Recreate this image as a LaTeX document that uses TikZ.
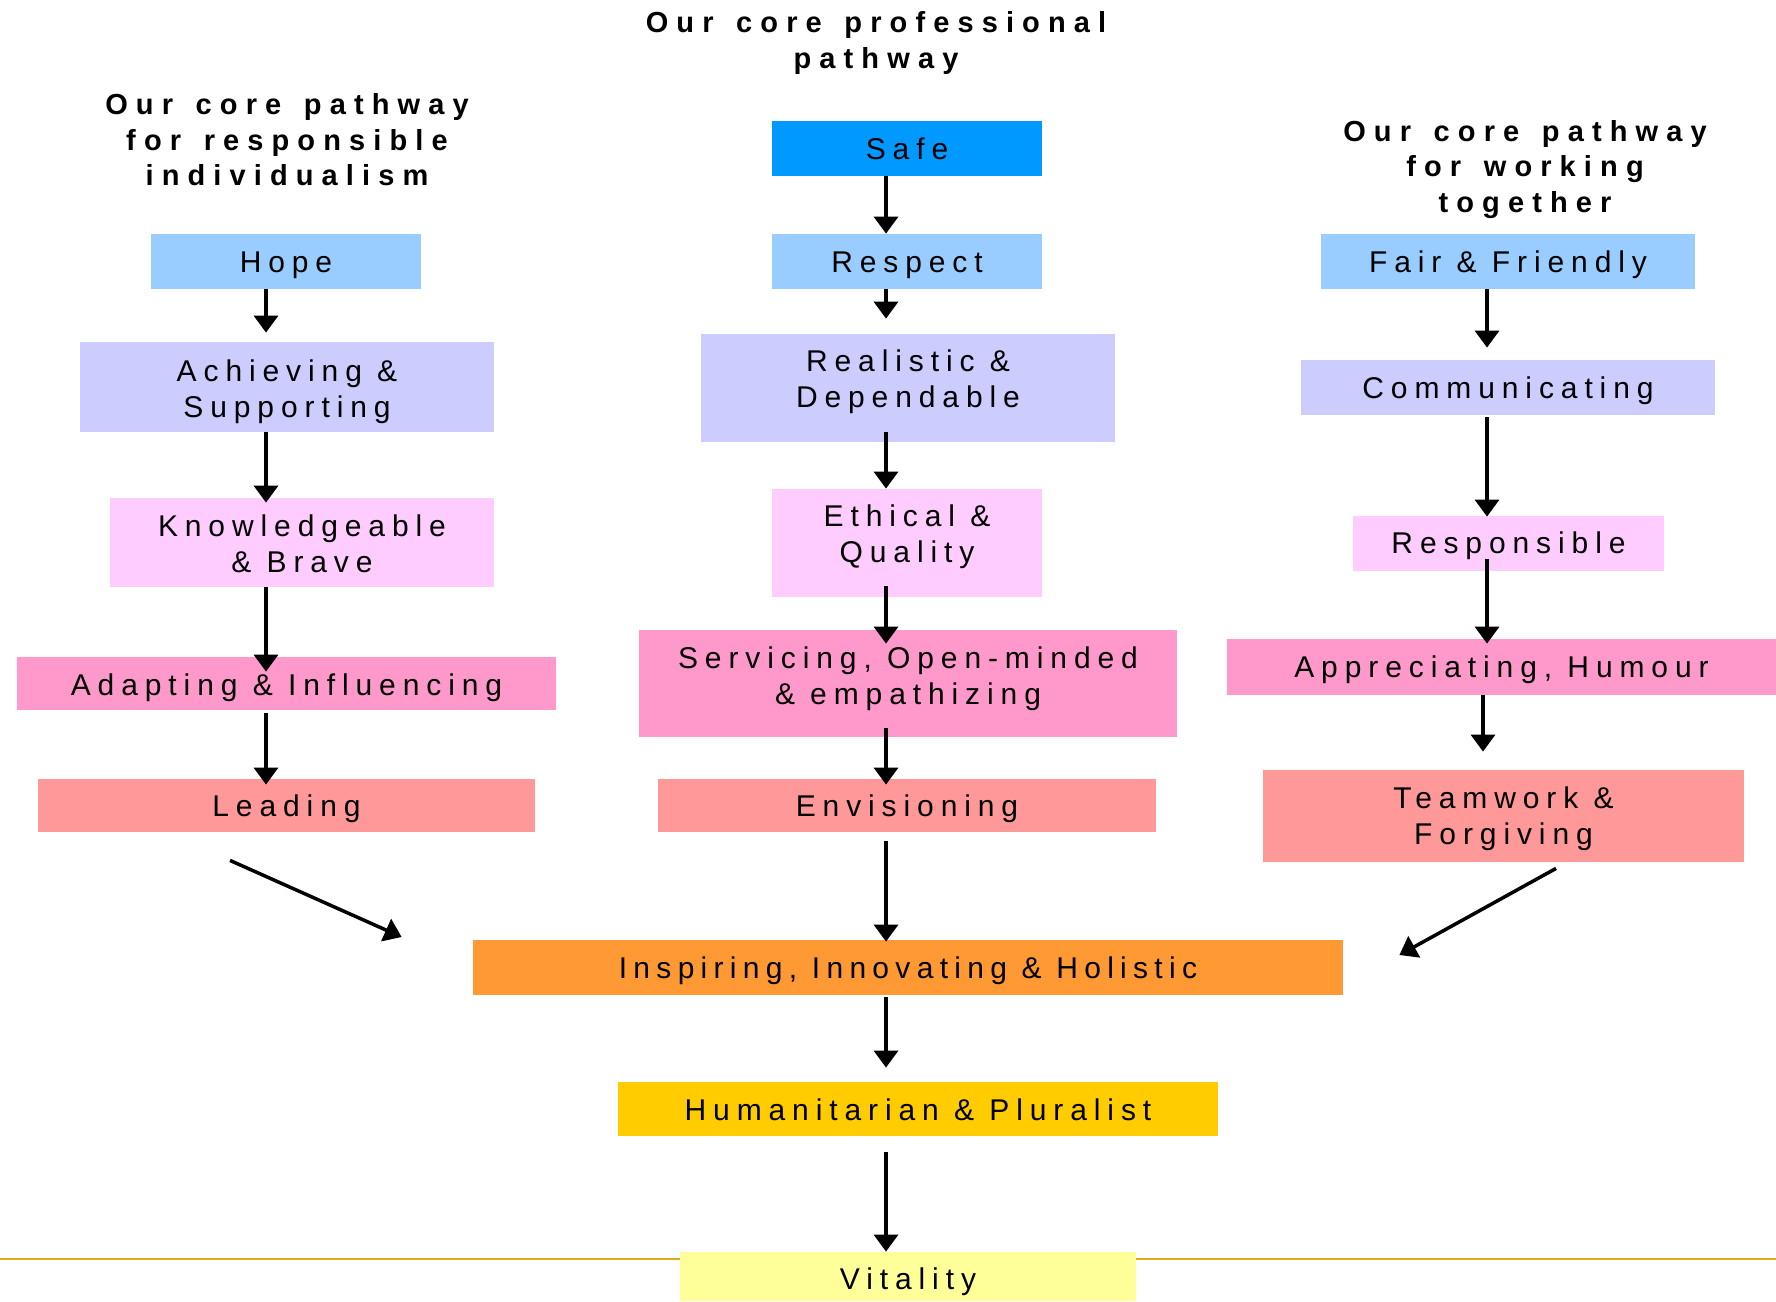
\documentclass[tikz,border=0pt]{standalone}
\usepackage{fontspec}
\setmainfont{Liberation Sans}
\newfontfamily\boxfont[LetterSpace=23,WordSpace=1.0]{Liberation Sans}
\newfontfamily\boxfontN[LetterSpace=21,WordSpace=1.0]{Liberation Sans}
\newfontfamily\titlefont[LetterSpace=28,WordSpace=1.4]{Liberation Sans Bold}
\usetikzlibrary{arrows.meta,calc}
\definecolor{cSafe}{HTML}{0099FF}
\definecolor{cBlue}{HTML}{99CCFF}
\definecolor{cLav}{HTML}{CCCCFF}
\definecolor{cPinkL}{HTML}{FFCCFF}
\definecolor{cPink}{HTML}{FF99CC}
\definecolor{cSalmon}{HTML}{FF9999}
\definecolor{cOrange}{HTML}{FF9933}
\definecolor{cGold}{HTML}{FFCC00}
\definecolor{cYellow}{HTML}{FFFF99}
\definecolor{cLine}{HTML}{DDAA22}
\begin{document}
\begin{tikzpicture}[x=0.5pt,y=-0.5pt,
  tx/.style={inner sep=0pt, align=center, text=black, yshift=-1.8pt,
    font=\boxfont\fontsize{15}{18}\selectfont},
  bx/.style={draw=none, inner sep=0pt},
  ttl/.style={inner sep=0pt, align=center, text=black,
    font=\titlefont\fontsize{14.5}{17.8}\selectfont},
  arr/.style={line width=1.75pt, -{Triangle[width=12pt,length=8.5pt]}},
]
\useasboundingbox (0,0) rectangle (1776,1301);
\fill[white] (0,0) rectangle (1776,1301);

% horizontal rule
\coordinate (ruleL) at (0,1259);
\coordinate (ruleR) at (1776,1259);
\draw[cLine, line width=1pt] (ruleL) -- (ruleR);

% titles
\node[ttl] (tL) at (287,140) {Our core pathway\\for responsible\\individualism};
\node[ttl] (tM) at (876,43) {Our core professional\\pathway};
\node[ttl] (tR) at (1525,169.5) {Our core pathway\\for working\\together};

% left column
\node[bx, fill=cBlue, minimum width=135pt, minimum height=27.5pt,
  label={[tx, name=hopeT]center:Hope}] (hope) at (286,261.5) {};
\node[bx, fill=cLav, minimum width=207pt, minimum height=45pt,
  label={[tx, name=achT, yshift=-0.7pt]center:Achieving \&\\Supporting}] (ach) at (287,387) {};
\node[bx, fill=cPinkL, minimum width=192pt, minimum height=44.5pt,
  label={[tx, name=knowT, yshift=1pt]center:Knowledgeable\\\& Brave}] (know) at (302,542.5) {};
\node[bx, fill=cPink, minimum width=269.5pt, minimum height=26.5pt,
  label={[tx, name=adaptT, yshift=-0.5pt]center:Adapting \& Influencing}] (adapt) at (286.5,683.5) {};
\node[bx, fill=cSalmon, minimum width=248.5pt, minimum height=26.5pt,
  label={[tx, name=leadT]center:Leading}] (lead) at (286.5,805.5) {};

% middle column
\node[bx, fill=cSafe, minimum width=135pt, minimum height=27.5pt,
  label={[tx, name=safeT, yshift=1.7pt]center:Safe}] (safe) at (907,148.5) {};
\node[bx, fill=cBlue, minimum width=135pt, minimum height=27.5pt,
  label={[tx, name=respectT]center:Respect}] (respect) at (907,261.5) {};
\node[bx, fill=cLav, minimum width=207pt, minimum height=54pt,
  label={[tx, name=realT, yshift=5pt]center:Realistic \&\\Dependable}] (real) at (908,388) {};
\node[bx, fill=cPinkL, minimum width=135pt, minimum height=54pt,
  label={[tx, name=ethT, yshift=4.7pt]center:Ethical \&\\Quality}] (eth) at (907,543) {};
\node[bx, fill=cPink, minimum width=269pt, minimum height=53.5pt,
  label={[tx, name=servT, yshift=4.3pt]center:Servicing, Open-minded\\\& empathizing}] (serv) at (908,683.5) {};
\node[bx, fill=cSalmon, minimum width=249pt, minimum height=26.5pt,
  label={[tx, name=envT]center:Envisioning}] (env) at (907,805.5) {};

% right column
\node[bx, fill=cBlue, minimum width=187pt, minimum height=27.5pt,
  label={[tx, name=fairT]center:Fair \& Friendly}] (fair) at (1508,261.5) {};
\node[bx, fill=cLav, minimum width=207pt, minimum height=27.5pt,
  label={[tx, name=commT]center:Communicating}] (comm) at (1508,387.5) {};
\node[bx, fill=cPinkL, minimum width=155.5pt, minimum height=27.5pt,
  label={[tx, name=respT, yshift=0.5pt]center:Responsible}] (resp) at (1508.5,543.5) {};
\node[bx, fill=cPink, minimum width=274.5pt, minimum height=28pt,
  label={[tx, name=apprT, yshift=0.5pt]center:Appreciating, Humour}] (appr) at (1501.5,667) {};
\node[bx, fill=cSalmon, minimum width=240.5pt, minimum height=46pt,
  label={[tx, name=teamT, yshift=0.5pt]center:Teamwork \&\\Forgiving}] (team) at (1503.5,816) {};

% bottom
\node[bx, fill=cOrange, minimum width=435pt, minimum height=27.5pt,
  label={[tx, name=inspT, font=\boxfontN\fontsize{15}{18}\selectfont]center:Inspiring, Innovating \& Holistic}] (insp) at (908,967.5) {};
\node[bx, fill=cGold, minimum width=300pt, minimum height=27pt,
  label={[tx, name=humT, yshift=1.6pt]center:Humanitarian \& Pluralist}] (hum) at (918,1109) {};
\node[bx, fill=cYellow, minimum width=228pt, minimum height=24.5pt,
  label={[tx, name=vitT, yshift=-1pt]center:Vitality}] (vit) at (908,1276.5) {};

% column guides
\coordinate (colL) at (266,0);
\coordinate (colM) at (886,0);
\coordinate (colR) at (1487,0);
\coordinate (colR2) at (1483,0);

% left arrows
\draw[arr] (hope.south -| colL) -- ($(ach.north -| colL)+(0,-9)$);
\draw[arr] (ach.south -| colL) -- ($(know.north -| colL)+(0,5)$);
\draw[arr] (know.south -| colL) -- ($(adapt.north -| colL)+(0,15)$);
\draw[arr] ($(adapt.south -| colL)+(0,3)$) -- ($(lead.north -| colL)+(0,6)$);

% middle arrows
\draw[arr] (safe.south -| colM) -- (respect.north -| colM);
\draw[arr] (respect.south -| colM) -- ($(real.north -| colM)+(0,-15)$);
\draw[arr] ($(real.south -| colM)+(0,-10)$) -- (eth.north -| colM);
\draw[arr] ($(eth.south -| colM)+(0,-11)$) -- ($(serv.north -| colM)+(0,14)$);
\draw[arr] ($(serv.south -| colM)+(0,-9)$) -- ($(env.north -| colM)+(0,6)$);
\draw[arr] ($(env.south -| colM)+(0,9)$) -- ($(insp.north -| colM)+(0,2)$);
\draw[arr] ($(insp.south -| colM)+(0,2)$) -- ($(hum.north -| colM)+(0,-14)$);
\draw[arr] ($(hum.south -| colM)+(0,16)$) -- (vit.north -| colM);

% right arrows
\draw[arr] (fair.south -| colR) -- ($(comm.north -| colR)+(0,-12)$);
\draw[arr] ($(comm.south -| colR)+(0,2)$) -- ($(resp.north -| colR)+(0,1)$);
\draw[arr] ($(resp.south -| colR)+(0,-12)$) -- ($(appr.north -| colR)+(0,5)$);
\draw[arr] (appr.south -| colR2) -- ($(team.north -| colR2)+(0,-18)$);

% converging diagonals
\draw[arr] ($(lead.south)+(-56.5,28)$) -- ($(insp.west)+(-71,-30.5)$);
\draw[arr] ($(team.south)+(52.5,6)$) -- ($(insp.east)+(56,-12.5)$);
\end{tikzpicture}
\end{document}
